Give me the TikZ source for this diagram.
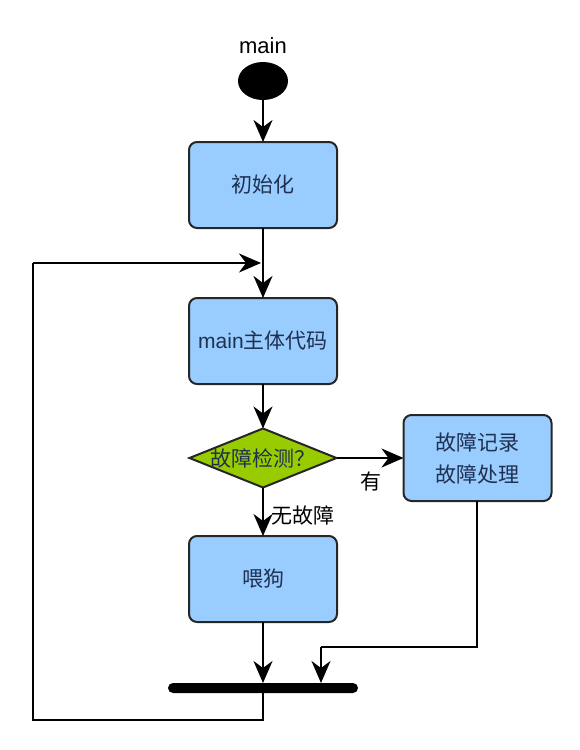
\documentclass[tikz,border=0pt]{standalone}
\usepackage{fontspec}
\setmainfont{Liberation Sans}
\newfontfamily\cjk{Noto Sans CJK SC}
\usetikzlibrary{arrows.meta,shapes.geometric}
\definecolor{boxfill}{HTML}{99CCFF}
\definecolor{dmfill}{HTML}{99CC00}
\definecolor{txtblue}{HTML}{1F3050}
\begin{document}
\begin{tikzpicture}[x=1pt,y=-1pt,
  every node/.style={inner sep=0pt,outer sep=0pt},
  proc/.style={draw=black!85,line width=2pt,fill=boxfill,rounded corners=8pt,
    minimum width=148pt,minimum height=86pt,font=\fontsize{21}{32}\selectfont\cjk,text=txtblue,align=center},
  flow/.style={line width=2pt,-{Stealth[length=22pt,width=19pt,inset=7pt]}},
  plain/.style={line width=2pt}]
\useasboundingbox (0,0) rectangle (580,750);
\node (lbl) at (263,46) {\fontsize{22}{24}\selectfont main};
\node[ellipse,fill=black,minimum width=50pt,minimum height=38pt] (start) at (263,81) {};
\node[proc] (init) at (263,185) {初始化};
\node[proc] (body) at (263,341) {{\fontfamily{\familydefault}\selectfont main}主体代码};
\node[diamond,draw=black!85,line width=2pt,fill=dmfill,minimum width=147pt,minimum height=59pt,
  aspect=2.5] (chk) at (263,458) {};
\node[font=\fontsize{21}{24}\selectfont\cjk,text=txtblue] (chktxt) at (263,458) {故障检测？};
\node[proc] (fault) at (477.5,458) {故障记录\\故障处理};
\node[proc] (dog) at (263,579) {喂狗};
\node[fill=black,rounded corners=5pt,minimum width=190pt,minimum height=10pt] (bar) at (263,688) {};
\coordinate (J) at (263,263);
\coordinate (L1) at (263,720);
\coordinate (L2) at (33,720);
\coordinate (L3) at (33,263);
\coordinate (F1) at (477,647);
\coordinate (F2) at (321,647);
\draw[flow] (start) -- (init);
\draw[flow] (init) -- (body);
\draw[flow] (body) -- (chk);
\draw[flow] (chk) -- (fault);
\draw[flow] (chk) -- (dog);
\draw[flow] (dog.south) -- (bar.north);
\draw[plain] (fault.south -| F1) -- (F1) -- (F2);
\draw[flow] (F2) -- (bar.north -| F2);
\draw[plain] (bar.south -| L1) -- (L1) -- (L2) -- (L3);
\draw[flow] (L3) -- ([xshift=-2pt]J);
\node[font=\fontsize{21}{24}\selectfont\cjk] (yes) at (371,482) {有};
\node[font=\fontsize{21}{24}\selectfont\cjk,anchor=west] (no) at (271,515) {无故障};
\end{tikzpicture}
\end{document}
